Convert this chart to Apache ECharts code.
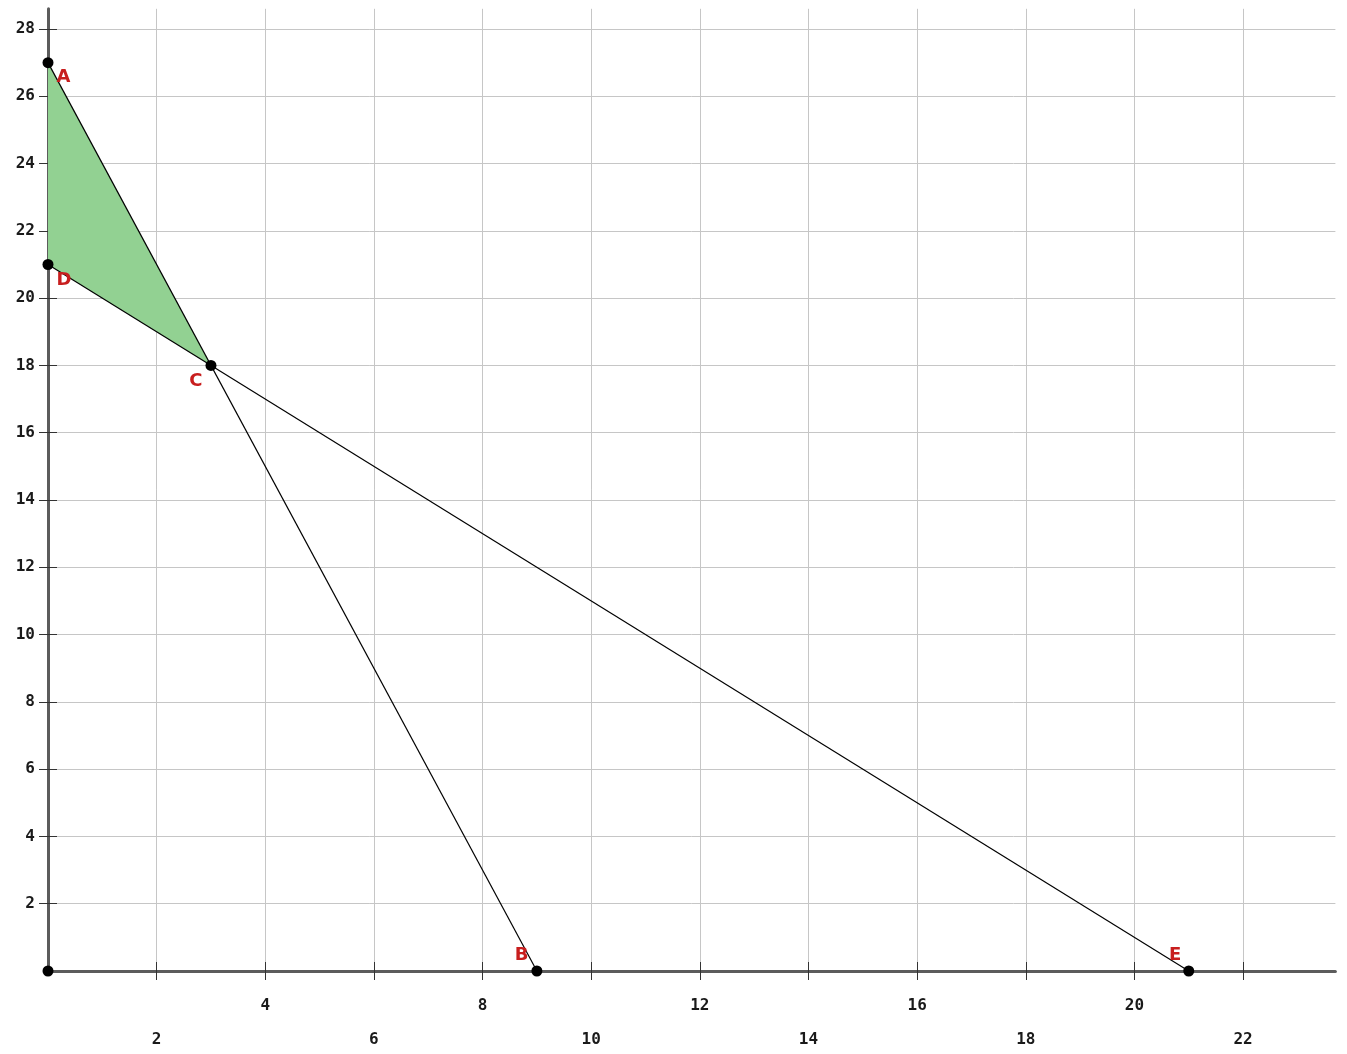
<!DOCTYPE html>
<html>
<head>
<meta charset="utf-8">
<script src="https://cdn.jsdelivr.net/npm/echarts@6/dist/echarts.min.js"></script>
<style>
html,body{margin:0;padding:0;background:#fff;}
#chart{width:1347px;height:1054px;}
</style>
</head>
<body>
<div id="chart"></div>
<script>
// ---- data ----
const pointNames = ['A', 'B', 'C', 'D', 'E', ''];
const pointX = [0, 9, 3, 0, 21, 0];
const pointY = [27, 0, 18, 21, 0, 0];
// constraint lines (endpoints by point name)
const line1 = ['A', 'B'];
const line2 = ['D', 'E'];
// feasible region vertices
const regionNames = ['A', 'D', 'C'];
// tick values
const xTicks = [0, 2, 4, 6, 8, 10, 12, 14, 16, 18, 20, 22];
const yTicks = [0, 2, 4, 6, 8, 10, 12, 14, 16, 18, 20, 22, 24, 26, 28];
const xLabelsRow1 = [4, 8, 12, 16, 20];
const xLabelsRow2 = [2, 6, 10, 14, 18, 22];
const yLabels = [2, 4, 6, 8, 10, 12, 14, 16, 18, 20, 22, 24, 26, 28];

// ---- helpers ----
function pt(name) {
  const i = pointNames.indexOf(name);
  return [pointX[i], pointY[i]];
}
const labelPlace = {
  A: {position: 'right', offset: [-2, 15]},
  B: {position: 'left', offset: [2, -16]},
  C: {position: 'left', offset: [2, 16]},
  D: {position: 'right', offset: [-2, 16]},
  E: {position: 'left', offset: [3, -16]},
  '': {show: false}
};

const axisColor = '#5c5c5c';
const gridColor = '#c6c6c6';
const labelFont = {color: '#1a1a1a', fontSize: 16, fontWeight: 'bold', fontFamily: 'DejaVu Sans Mono'};

const chart = echarts.init(document.getElementById('chart'), null, {renderer: 'canvas'});

const xBase = {type: 'value', min: 0, max: 23.7, interval: 2, position: 'bottom'};
const yBase = {type: 'value', min: 0, max: 28.6, interval: 2, position: 'left'};

chart.setOption({
  animation: false,
  backgroundColor: '#fff',
  grid: {left: 48, right: 11.6, top: 8.8, bottom: 83, containLabel: false, outerBoundsMode: 'none'},
  xAxis: [
    Object.assign({}, xBase, {
      axisLine: {show: true, onZero: false, lineStyle: {color: axisColor, width: 3}},
      axisTick: {show: true, inside: false, length: 9, customValues: xTicks.slice(1), lineStyle: {color: '#333', width: 1}},
      axisLabel: Object.assign({}, labelFont, {margin: 27, customValues: xLabelsRow1, formatter: v => String(v)}),
      splitLine: {show: true, lineStyle: {color: gridColor, width: 1}}
    }),
    Object.assign({}, xBase, {
      axisLine: {show: false, onZero: false},
      axisTick: {show: true, inside: true, length: 9, customValues: xTicks.slice(1), lineStyle: {color: '#333', width: 1}},
      axisLabel: Object.assign({}, labelFont, {margin: 61, customValues: xLabelsRow2, formatter: v => String(v)}),
      splitLine: {show: false}
    })
  ],
  yAxis: [
    Object.assign({}, yBase, {
      axisLine: {show: true, onZero: false, lineStyle: {color: axisColor, width: 3}},
      axisTick: {show: true, inside: false, length: 9, customValues: yTicks.slice(1), lineStyle: {color: '#333', width: 1}},
      axisLabel: Object.assign({}, labelFont, {margin: 13, customValues: yLabels, formatter: v => String(v)}),
      splitLine: {show: true, lineStyle: {color: gridColor, width: 1}}
    }),
    Object.assign({}, yBase, {
      axisLine: {show: false, onZero: false},
      axisTick: {show: true, inside: true, length: 9, customValues: yTicks.slice(1), lineStyle: {color: '#333', width: 1}},
      axisLabel: {show: false},
      splitLine: {show: false}
    })
  ],
  series: [
    {
      type: 'custom',
      xAxisIndex: 0, yAxisIndex: 0,
      z: 1,
      silent: true,
      data: [[0]],
      renderItem: function (params, api) {
        const pts = regionNames.map(n => api.coord(pt(n)));
        return {
          type: 'polygon',
          shape: {points: pts},
          style: {fill: '#92d192', stroke: null}
        };
      }
    },
    {
      type: 'line', xAxisIndex: 0, yAxisIndex: 0, z: 3,
      data: line1.map(pt), showSymbol: false, symbol: 'none',
      lineStyle: {color: '#000', width: 1.2}
    },
    {
      type: 'line', xAxisIndex: 0, yAxisIndex: 0, z: 3,
      data: line2.map(pt), showSymbol: false, symbol: 'none',
      lineStyle: {color: '#000', width: 1.2}
    },
    {
      type: 'scatter', xAxisIndex: 0, yAxisIndex: 0, z: 5,
      symbolSize: 11,
      itemStyle: {color: '#000', opacity: 1},
      data: pointNames.map((n, i) => ({
        name: n,
        value: [pointX[i], pointY[i]],
        label: Object.assign({
          show: true,
          formatter: '{b}',
          color: '#c81e1e',
          fontSize: 18,
          fontWeight: 'bold',
          fontFamily: 'DejaVu Sans'
        }, labelPlace[n])
      }))
    }
  ]
});
</script>
</body>
</html>
